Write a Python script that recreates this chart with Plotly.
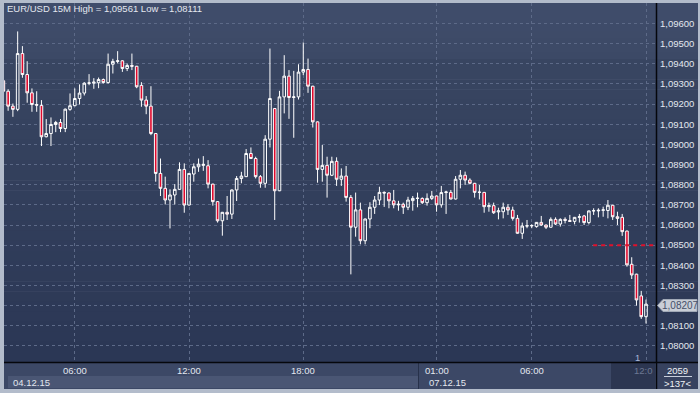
import plotly.graph_objects as go

# ---------------- data (EUR/USD 15M) ----------------
opens = [1.09316, 1.09264, 1.09190, 1.09174, 1.09451, 1.09347, 1.09256, 1.09198, 1.09193, 1.09038,
         1.09054, 1.09099, 1.09109, 1.09079, 1.09174, 1.09192, 1.09228, 1.09255, 1.09304, 1.09304,
         1.09306, 1.09322, 1.09307, 1.09398, 1.09412, 1.09415, 1.09377, 1.09392, 1.09388, 1.09293,
         1.09220, 1.09190, 1.09054, 1.08856, 1.08782, 1.08724, 1.08749, 1.08777, 1.08876, 1.08699,
         1.08853, 1.08889, 1.08896, 1.08894, 1.08803, 1.08716, 1.08621, 1.08663, 1.08654, 1.08774,
         1.08831, 1.08840, 1.08955, 1.08930, 1.08840, 1.08807, 1.09026, 1.09178, 1.08770, 1.09236,
         1.09339, 1.09233, 1.09236, 1.09359, 1.09372, 1.09289, 1.09112, 1.08876, 1.08896, 1.08847,
         1.08916, 1.08827, 1.08843, 1.08737, 1.08589, 1.08675, 1.08522, 1.08630, 1.08688, 1.08724,
         1.08762, 1.08759, 1.08720, 1.08700, 1.08703, 1.08688, 1.08721, 1.08732, 1.08732, 1.08711,
         1.08732, 1.08744, 1.08700, 1.08761, 1.08762, 1.08729, 1.08827, 1.08847, 1.08823, 1.08807,
         1.08762, 1.08762, 1.08691, 1.08696, 1.08665, 1.08666, 1.08688, 1.08674, 1.08633, 1.08559,
         1.08595, 1.08596, 1.08592, 1.08613, 1.08600, 1.08589, 1.08628, 1.08605, 1.08628, 1.08622,
         1.08618, 1.08638, 1.08645, 1.08612, 1.08670, 1.08670, 1.08673, 1.08672, 1.08698, 1.08641,
         1.08638, 1.08570, 1.08405, 1.08356, 1.08248, 1.08145]
highs = [1.09330, 1.09274, 1.09203, 1.09561, 1.09488, 1.09413, 1.09278, 1.09264, 1.09220, 1.09126,
         1.09134, 1.09117, 1.09126, 1.09178, 1.09253, 1.09278, 1.09298, 1.09309, 1.09349, 1.09329,
         1.09332, 1.09327, 1.09451, 1.09425, 1.09463, 1.09418, 1.09402, 1.09451, 1.09390, 1.09309,
         1.09240, 1.09289, 1.09056, 1.08930, 1.08840, 1.08777, 1.08803, 1.08911, 1.08906, 1.08858,
         1.08906, 1.08930, 1.08942, 1.08922, 1.08805, 1.08718, 1.08665, 1.08744, 1.08776, 1.08843,
         1.08864, 1.08977, 1.08985, 1.08939, 1.08848, 1.09046, 1.09476, 1.09180, 1.09266, 1.09443,
         1.09369, 1.09365, 1.09398, 1.09506, 1.09426, 1.09291, 1.09114, 1.08997, 1.08939, 1.08939,
         1.08936, 1.08881, 1.08893, 1.08749, 1.08761, 1.08711, 1.08632, 1.08713, 1.08744, 1.08790,
         1.08767, 1.08762, 1.08774, 1.08720, 1.08711, 1.08740, 1.08744, 1.08761, 1.08737, 1.08757,
         1.08769, 1.08746, 1.08794, 1.08770, 1.08774, 1.08843, 1.08873, 1.08865, 1.08832, 1.08809,
         1.08799, 1.08764, 1.08711, 1.08711, 1.08686, 1.08711, 1.08704, 1.08691, 1.08650, 1.08612,
         1.08625, 1.08604, 1.08615, 1.08645, 1.08602, 1.08638, 1.08638, 1.08633, 1.08638, 1.08650,
         1.08640, 1.08655, 1.08650, 1.08672, 1.08683, 1.08683, 1.08691, 1.08724, 1.08700, 1.08666,
         1.08655, 1.08572, 1.08440, 1.08358, 1.08273, 1.08230]
lows = [1.09258, 1.09167, 1.09137, 1.09165, 1.09331, 1.09207, 1.09162, 1.09162, 1.08992, 1.09035,
        1.08992, 1.09061, 1.09061, 1.09061, 1.09167, 1.09190, 1.09198, 1.09243, 1.09294, 1.09276,
        1.09279, 1.09302, 1.09302, 1.09352, 1.09402, 1.09360, 1.09364, 1.09369, 1.09279, 1.09187,
        1.09150, 1.09046, 1.08815, 1.08744, 1.08702, 1.08583, 1.08702, 1.08775, 1.08661, 1.08697,
        1.08815, 1.08864, 1.08869, 1.08782, 1.08696, 1.08612, 1.08547, 1.08625, 1.08630, 1.08719,
        1.08807, 1.08838, 1.08928, 1.08831, 1.08785, 1.08785, 1.08985, 1.08625, 1.08768, 1.09154,
        1.09127, 1.09033, 1.09223, 1.09344, 1.09256, 1.09084, 1.08810, 1.08815, 1.08736, 1.08843,
        1.08794, 1.08794, 1.08716, 1.08355, 1.08542, 1.08504, 1.08504, 1.08584, 1.08655, 1.08699,
        1.08690, 1.08683, 1.08683, 1.08671, 1.08655, 1.08674, 1.08671, 1.08688, 1.08704, 1.08696,
        1.08724, 1.08666, 1.08686, 1.08655, 1.08727, 1.08727, 1.08782, 1.08799, 1.08802, 1.08736,
        1.08727, 1.08661, 1.08666, 1.08655, 1.08628, 1.08633, 1.08650, 1.08622, 1.08557, 1.08531,
        1.08584, 1.08584, 1.08587, 1.08595, 1.08580, 1.08587, 1.08600, 1.08592, 1.08608, 1.08616,
        1.08603, 1.08612, 1.08600, 1.08603, 1.08650, 1.08638, 1.08641, 1.08633, 1.08625, 1.08600,
        1.08546, 1.08393, 1.08332, 1.08200, 1.08134, 1.08111]
closes = [1.09264, 1.09190, 1.09174, 1.09451, 1.09347, 1.09256, 1.09198, 1.09195, 1.09038, 1.09054,
          1.09099, 1.09109, 1.09079, 1.09175, 1.09192, 1.09228, 1.09255, 1.09304, 1.09305, 1.09309,
          1.09322, 1.09307, 1.09398, 1.09412, 1.09415, 1.09377, 1.09392, 1.09388, 1.09286, 1.09220,
          1.09190, 1.09054, 1.08856, 1.08782, 1.08724, 1.08749, 1.08777, 1.08876, 1.08699, 1.08856,
          1.08889, 1.08902, 1.08901, 1.08803, 1.08716, 1.08621, 1.08663, 1.08654, 1.08774, 1.08831,
          1.08843, 1.08955, 1.08930, 1.08840, 1.08807, 1.09026, 1.09228, 1.08770, 1.09236, 1.09339,
          1.09233, 1.09236, 1.09359, 1.09372, 1.09289, 1.09112, 1.08876, 1.08896, 1.08847, 1.08916,
          1.08827, 1.08843, 1.08737, 1.08589, 1.08675, 1.08522, 1.08630, 1.08688, 1.08724, 1.08762,
          1.08759, 1.08720, 1.08700, 1.08703, 1.08688, 1.08724, 1.08732, 1.08733, 1.08711, 1.08732,
          1.08744, 1.08700, 1.08761, 1.08764, 1.08729, 1.08827, 1.08847, 1.08823, 1.08807, 1.08762,
          1.08763, 1.08691, 1.08696, 1.08661, 1.08670, 1.08688, 1.08674, 1.08633, 1.08559, 1.08595,
          1.08596, 1.08597, 1.08613, 1.08600, 1.08589, 1.08628, 1.08605, 1.08628, 1.08623, 1.08618,
          1.08638, 1.08641, 1.08612, 1.08670, 1.08671, 1.08673, 1.08675, 1.08698, 1.08641, 1.08633,
          1.08567, 1.08402, 1.08352, 1.08228, 1.08145, 1.08207]
bar_index = list(range(len(opens)))

time_tick_idx = [15, 39, 63, 91, 111, 135]
time_tick_labels = ["06:00", "12:00", "18:00", "01:00", "06:00", "12:00"]
date_labels = ["04.12.15", "07.12.15"]
price_ticks = [1.080, 1.081, 1.082, 1.083, 1.084, 1.085, 1.086, 1.087, 1.088,
               1.089, 1.090, 1.091, 1.092, 1.093, 1.094, 1.095, 1.096]
level_line = 1.0850
last_price = 1.08207
title_text = "EUR/USD 15M High = 1,09561 Low = 1,08111"

# ---------------- geometry helpers (pixels -> paper) ----------------
W, H = 700, 393
PL, PR, PT, PB = 4, 656, 3, 362


def fx(px):
    return (px - PL) / (PR - PL)


def fy(py):
    return (PB - py) / (PB - PT)


def fmt(v):
    return "{:.5f}".format(v).replace(".", ",")


FONT = "Arial, Liberation Sans, sans-serif"
TXT = "#e3e7ef"
GRID = "#5d6a88"

fig = go.Figure()
fig.add_trace(go.Candlestick(
    x=bar_index, open=opens, high=highs, low=lows, close=closes,
    increasing=dict(line=dict(color="#ffffff", width=1), fillcolor="rgba(0,0,0,0)"),
    decreasing=dict(line=dict(color="#ffffff", width=1), fillcolor="#e0082c"),
    whiskerwidth=0, hoverinfo="skip", showlegend=False,
))

shapes = []


def rect(x0, y0, x1, y1, color, layer="below", line=None):
    shapes.append(dict(type="rect", xref="paper", yref="paper",
                       x0=fx(x0), x1=fx(x1), y0=fy(y1), y1=fy(y0),
                       fillcolor=color, line=line or dict(width=0), layer=layer))


def mix(c0, c1, t):
    return "rgb(%d,%d,%d)" % tuple(round(a + (b - a) * t) for a, b in zip(c0, c1))


# background gradient (upper glossy band, then darker gradient)
n = 8
for k in range(n):
    y0 = PT + (59 - PT) * k / n
    y1 = PT + (59 - PT) * (k + 1) / n
    rect(PL, y0, 698, y1 + 0.5, mix((64, 77, 107), (60, 73, 102), k / (n - 1)))
n = 30
for k in range(n):
    y0 = 59 + (PB - 59) * k / n
    y1 = 59 + (PB - 59) * (k + 1) / n
    rect(PL, y0, 698, y1 + 0.5, mix((56, 69, 97), (43, 55, 85), k / (n - 1)))

# time strip at the bottom
rect(PL, 363, 656, 389, "#3c4866")
rect(8, 376, 418, 388, "#4a5674")
rect(611, 363, 655, 389, "#2c3651")
rect(657, 363, 698, 389, "#37425f")
shapes.append(dict(type="line", xref="paper", yref="paper", x0=fx(418.5), x1=fx(418.5),
                   y0=fy(389), y1=fy(363), line=dict(color="#27314a", width=1), layer="above"))
shapes.append(dict(type="line", xref="paper", yref="paper", x0=fx(664), x1=fx(692),
                   y0=fy(376.5), y1=fy(376.5), line=dict(color="#c8cfdc", width=1), layer="above"))
# black borders
shapes.append(dict(type="line", xref="paper", yref="paper", x0=fx(656.5), x1=fx(656.5),
                   y0=fy(389), y1=fy(PT), line=dict(color="#05070c", width=1.5), layer="above"))
shapes.append(dict(type="line", xref="paper", yref="paper", x0=fx(PL), x1=fx(698),
                   y0=fy(362.5), y1=fy(362.5), line=dict(color="#05070c", width=1.5), layer="above"))

# red dashed level line
shapes.append(dict(type="line", xref="x", yref="y", x0=123.9, x1=137.2,
                   y0=level_line, y1=level_line,
                   line=dict(color="#e0102b", width=2, dash="4px,4px"), layer="above"))

# last price marker box with arrow
ym = fy(305.5)
path = "M %f %f L %f %f L %f %f L %f %f L %f %f Z" % (
    fx(657.5), ym, fx(663), fy(299.5), fx(697), fy(299.5), fx(697), fy(311.5), fx(663), fy(311.5))
shapes.append(dict(type="path", xref="paper", yref="paper", path=path,
                   fillcolor="#c9ced7", line=dict(color="#a2a9b8", width=1), layer="above"))

annotations = []


def text(px, py, s, anchor="center", color=TXT, size=9.5):
    annotations.append(dict(xref="paper", yref="paper", x=fx(px), y=fy(py), text=s,
                            showarrow=False, xanchor=anchor, yanchor="middle",
                            font=dict(family=FONT, size=size, color=color)))


text(5, 9, title_text, anchor="left")
for idx, lab in zip(time_tick_idx[:-1], time_tick_labels[:-1]):
    annotations.append(dict(xref="x", yref="paper", x=idx, y=fy(370.5), text=lab,
                            showarrow=False, xanchor="center", yanchor="middle",
                            font=dict(family=FONT, size=9.5, color=TXT)))
text(655, 370.5, time_tick_labels[-1][:4], anchor="right", color="#6d7893")
text(11, 382, date_labels[0], anchor="left")
text(427, 382, date_labels[1], anchor="left")
text(677, 370, "2059", color="#f0f2f6")
text(677, 383, "&gt;137&lt;", color="#f0f2f6")
text(637, 357, "1", color="#a9b9dc")
text(680, 305.5, fmt(last_price), color="#45506a", size=10)

# y tick labels; the one hidden behind the last-price box in the original is left blank
price_ticktext = ["" if abs(v - last_price) < 0.0005 else fmt(v) for v in price_ticks]

fig.update_layout(
    width=W, height=H,
    margin=dict(l=PL, r=W - PR, t=PT, b=H - PB, pad=0),
    paper_bgcolor="#b3bccb",
    plot_bgcolor="rgba(0,0,0,0)",
    showlegend=False,
    boxgap=0.22,
    shapes=shapes,
    annotations=annotations,
    xaxis=dict(range=[0.13, 137.1], tickvals=time_tick_idx, showticklabels=False,
               showgrid=True, gridcolor=GRID, griddash="3px,3px", gridwidth=1,
               zeroline=False, showline=False, ticks="", rangeslider=dict(visible=False),
               fixedrange=True),
    yaxis=dict(range=[1.07920, 1.09702], side="right", tickvals=price_ticks,
               ticktext=price_ticktext, showgrid=True, gridcolor=GRID, griddash="3px,3px",
               gridwidth=1, zeroline=False, showline=False, ticks="",
               ticklabelstandoff=3,
               tickfont=dict(family=FONT, size=9.5, color=TXT), fixedrange=True),
)

fig.write_html("out.html", config={"displayModeBar": False},
               post_script="document.body.style.margin='0px';document.body.style.overflow='hidden';")
